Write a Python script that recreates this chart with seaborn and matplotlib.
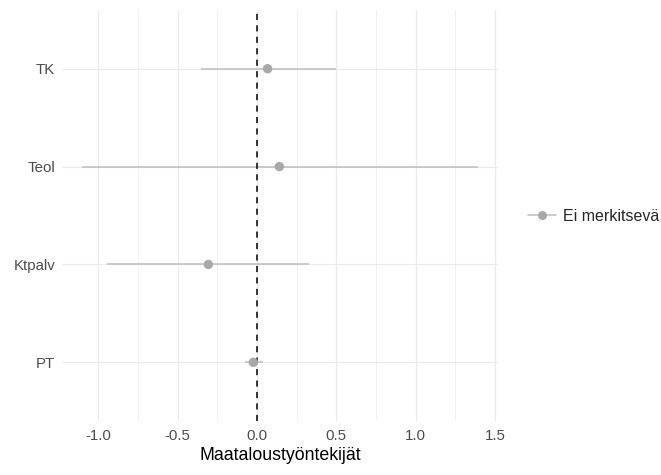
import matplotlib
matplotlib.use("Agg")
import matplotlib.pyplot as plt
from matplotlib.lines import Line2D
import numpy as np
import pandas as pd
import seaborn as sns

# Estimates with confidence intervals, listed bottom to top
groups = ["PT", "Ktpalv", "Teol", "TK"]
estimate = [-0.023, -0.307, 0.141, 0.067]
ci_low = [-0.074, -0.948, -1.104, -0.355]
ci_high = [0.036, 0.326, 1.394, 0.500]
significance = ["Ei merkitsevä"] * 4

x_ticks = [-1.0, -0.5, 0.0, 0.5, 1.0, 1.5]
x_title = "Maataloustyöntekijät"

df = pd.DataFrame({"group": groups, "est": estimate, "lo": ci_low,
                   "hi": ci_high, "sig": significance})

sns.set_theme(style="white")
plt.rcParams["font.family"] = ["Liberation Sans", "DejaVu Sans"]
plt.rcParams["axes.unicode_minus"] = False

fig = plt.figure(figsize=(6.61, 4.75), dpi=100)
ax = fig.add_axes([62 / 661, 1 - 421 / 475, 436 / 661, 411 / 475])

ypos = np.arange(len(groups))

# grid: major and minor lines
for xv in np.arange(-1.0, 1.51, 0.5):
    ax.axvline(xv, color="#ebebeb", lw=0.9, zorder=0)
for xv in np.arange(-0.75, 1.5, 0.5):
    ax.axvline(xv, color="#f1f1f1", lw=0.7, zorder=0)
for yv in ypos:
    ax.axhline(yv, color="#ebebeb", lw=0.9, zorder=0)

# confidence intervals
ax.hlines(ypos, df["lo"], df["hi"], color="#bdbdbd", lw=1.1, zorder=2)

# zero reference
ax.axvline(0, color="black", lw=1.1, ls=(0, (4, 3.5)), zorder=3)

# point estimates
df["y"] = ypos
sns.scatterplot(data=df, x="est", y="y", color="#a9a9a9", s=46,
                edgecolor="none", ax=ax, zorder=4, legend=False)

ax.set_xlim(-1.23, 1.52)
ax.set_ylim(-0.6, 3.6)
ax.set_xticks(x_ticks)
ax.set_xticklabels([f"{v:.1f}" for v in x_ticks])
ax.set_yticks(ypos)
ax.set_yticklabels(groups)
ax.tick_params(axis="both", length=0, labelsize=10.8, labelcolor="#4d4d4d")
ax.tick_params(axis="x", pad=6)
ax.tick_params(axis="y", pad=5)
ax.set_xlabel(x_title, fontsize=12.8, color="black", labelpad=3)
ax.set_ylabel("")
for s in ax.spines.values():
    s.set_visible(False)

handle = Line2D([0], [0], color="#bdbdbd", lw=1.1, marker="o",
                markersize=6.5, markerfacecolor="#a9a9a9",
                markeredgecolor="none")
fig.legend([handle], [significance[0]], loc="center left",
           bbox_to_anchor=(514 / 661, 1 - 216 / 475), frameon=False,
           fontsize=11.5, handlelength=1.7, handletextpad=0.45)

fig.savefig("out.png", dpi=100)
